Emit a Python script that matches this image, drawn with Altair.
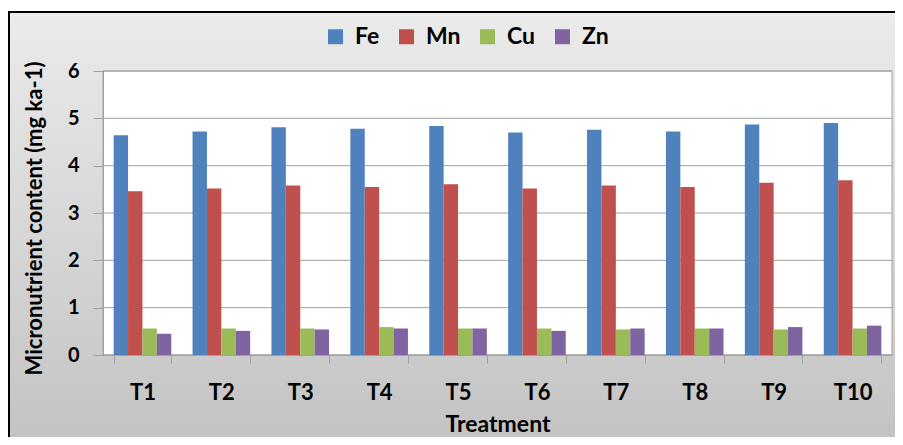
import altair as alt
import pandas as pd

treatments = ["T1", "T2", "T3", "T4", "T5", "T6", "T7", "T8", "T9", "T10"]
nutrients = ["Fe", "Mn", "Cu", "Zn"]
fe = [4.64, 4.72, 4.81, 4.78, 4.84, 4.70, 4.76, 4.72, 4.87, 4.90]
mn = [3.46, 3.52, 3.58, 3.55, 3.61, 3.52, 3.58, 3.55, 3.64, 3.69]
cu = [0.56, 0.56, 0.56, 0.59, 0.56, 0.56, 0.54, 0.56, 0.54, 0.56]
zn = [0.45, 0.51, 0.54, 0.56, 0.56, 0.51, 0.56, 0.56, 0.59, 0.62]
y_ticks = [0, 1, 2, 3, 4, 5, 6]
colors = ["#4F81BD", "#C0504D", "#9BBB59", "#8064A2"]

series = {"Fe": fe, "Mn": mn, "Cu": cu, "Zn": zn}
rows = []
for n in nutrients:
    for t, v in zip(treatments, series[n]):
        rows.append({"Treatment": t, "Nutrient": n, "Value": v})
df = pd.DataFrame(rows)

W, H = 789, 284
FONT = "Lato"
GRID = "#a0a0a0"

yscale = alt.Scale(domain=[0, 6], nice=False, zero=True)
yaxis = alt.Axis(title="Micronutrient content (mg ka-1)", values=y_ticks,
                 grid=False, tickSize=10, tickColor=GRID, domainColor=GRID,
                 labelFont=FONT, labelFontSize=20, labelFontWeight="bold",
                 labelColor="black", labelPadding=14,
                 titleFont=FONT, titleFontSize=22, titleFontWeight="bold",
                 titleColor="black", titleAngle=-90, titleAlign="center",
                 titleBaseline="middle", titleX=-69, titleY=147, zindex=1)

one = alt.Data(values=[{"k": 1}])

bg = alt.Chart(one).mark_rect(
    fill=alt.LinearGradient(
        gradient="linear",
        stops=[alt.GradientStop(color="#ebebeb", offset=0),
               alt.GradientStop(color="#c2c2c2", offset=1)],
        x1=0, x2=0, y1=0, y2=1),
    stroke="black", strokeWidth=2,
).encode(x=alt.value(-94), x2=alt.value(810), y=alt.value(-59), y2=alt.value(380))

plotbg = alt.Chart(one).mark_rect(fill="white", stroke=GRID, strokeWidth=1).encode(
    x=alt.value(0), x2=alt.value(W), y=alt.value(0), y2=alt.value(H))

grid = alt.Chart(alt.Data(values=[{"Value": v} for v in y_ticks])).mark_rule(
    color=GRID, strokeWidth=1).encode(
    y=alt.Y("Value:Q", scale=yscale, axis=yaxis),
    x=alt.value(0), x2=alt.value(W))

bars = alt.Chart(df).mark_bar().encode(
    x=alt.X("Treatment:N", sort=treatments,
            scale=alt.Scale(paddingInner=0.27, paddingOuter=0.135),
            axis=alt.Axis(title="Treatment", labelAngle=0, tickBand="extent",
                          labelFont=FONT, labelFontSize=22, labelFontWeight="bold",
                          labelColor="black", labelPadding=19, tickSize=8,
                          tickColor=GRID, domainColor=GRID,
                          titleFont=FONT, titleFontSize=23, titleFontWeight="bold",
                          titleColor="black", titleBaseline="alphabetic",
                          titleY=76, zindex=1)),
    xOffset=alt.XOffset("Nutrient:N", sort=nutrients,
                        scale=alt.Scale(paddingInner=0, paddingOuter=0)),
    y=alt.Y("Value:Q", scale=yscale, axis=yaxis),
    color=alt.Color("Nutrient:N", sort=nutrients,
                    scale=alt.Scale(domain=nutrients, range=colors),
                    legend=alt.Legend(title=None, orient="none", direction="horizontal",
                                      legendX=221, legendY=-46, symbolType="square",
                                      symbolSize=225, symbolStrokeWidth=0,
                                      labelFont=FONT, labelFontSize=23,
                                      labelFontWeight="bold", labelColor="black",
                                      labelOffset=8, columnPadding=15, padding=0)),
)

chart = alt.layer(bg, plotbg, grid, bars).properties(
    width=W, height=H,
    padding={"left": 95, "top": 63, "right": 3, "bottom": 82},
    autosize=alt.AutoSizeParams(type="none"),
    background="white",
).configure_view(stroke=None)

chart.save("out.html", embed_options={"renderer": "svg", "actions": False})
